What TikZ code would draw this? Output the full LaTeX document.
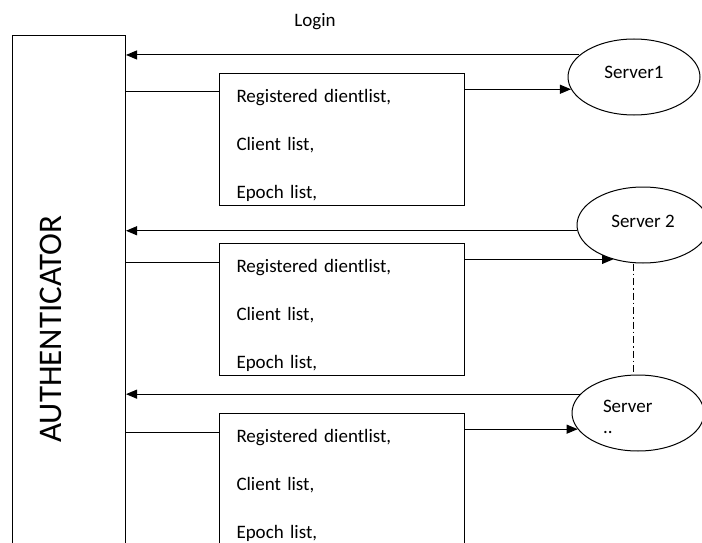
\documentclass[tikz,border=0pt]{standalone}
\usepackage{fontspec}
\setmainfont{Carlito}
\usetikzlibrary{arrows.meta,shapes.geometric}

\begin{document}
\begin{tikzpicture}[x=1pt,y=-1pt,line width=1pt,
  listbox/.style={draw,anchor=north west,minimum width=245pt,minimum height=132pt,
    text width=211pt,align=left,text height=25pt,font=\fontsize{19}{48}\selectfont},
  server/.style={draw,ellipse,minimum width=132pt,minimum height=76pt,inner sep=0pt,
    font=\fontsize{19}{21}\selectfont},
  tip/.style={-{Triangle[length=11pt,width=9pt]}}]
\useasboundingbox (0,0) rectangle (702,543);
\clip (0,0) rectangle (702,543);
% authenticator column
\node [draw,anchor=north west,minimum width=113pt,minimum height=600pt] (auth) at (12,35) {};
\node [rotate=90,font=\fontsize{33}{40}\selectfont] (authlbl) at (51,329) {AUTHENTICATOR};
\node [font=\fontsize{19}{22}\selectfont] (login) at (315,22) {Login};
% servers
\node [server,text depth=10pt] (s1) at (634,77) {Server1};
\node [server,text depth=8pt] (s2) at (643,225) {Server 2};
\node [server,text width=70pt,align=left,text height=21pt] (s3) at (638,413) {Server\\..};
% list boxes
\node [listbox] (b1) at (219,73) {Registered dientlist,\\Client list,\\Epoch list,};
\node [listbox] (b2) at (219,243) {Registered dientlist,\\Client list,\\Epoch list,};
\node [listbox] (b3) at (219,413) {Registered dientlist,\\Client list,\\Epoch list,};
\coordinate (in1) at ([yshift=-19pt]b1.north west);
\coordinate (in2) at ([yshift=-19pt]b2.north west);
\coordinate (in3) at ([yshift=-19pt]b3.north west);
% connectors
\draw [tip] (s1.158) -- (s1.158 -| auth.east);
\draw (auth.east |- in1) -- (in1);
\draw [tip] (s1.191 -| b1.east) -- (s1.191);
\draw [tip] (s2.185) -- (s2.185 -| auth.east);
\draw (auth.east |- in2) -- (in2);
\draw [tip] (s2.229 -| b2.east) -- (s2.229);
\draw [tip] (s3.162) -- (s3.162 -| auth.east);
\draw (auth.east |- in3) -- (in3);
\draw [tip] (s3.195 -| b3.east) -- (s3.195);
\draw [line width=0.8pt,dash pattern=on 7pt off 3pt on 1.5pt off 3pt] ([xshift=-10pt]s2.south) -- ([xshift=-5pt]s3.north);
\end{tikzpicture}
\end{document}
